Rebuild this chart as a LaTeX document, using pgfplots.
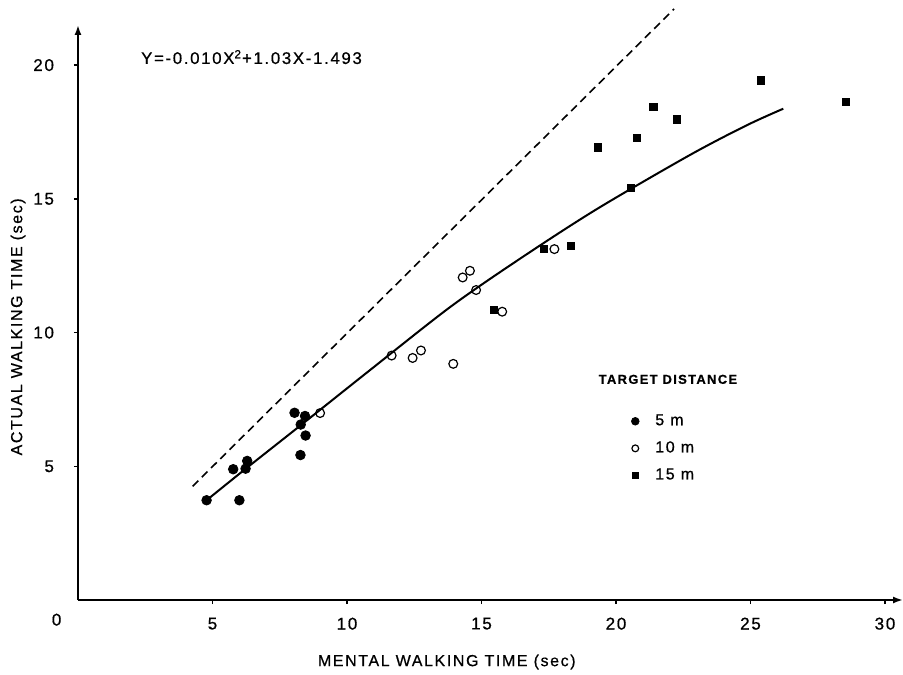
\documentclass[border=0pt]{standalone}
\usepackage{fontspec}
\setmainfont{Liberation Sans}[LetterSpace=10, FakeBold=0.7]
\usepackage{pgfplots}
\usepackage{pgfplotstable}
\pgfplotsset{compat=1.18}
\usetikzlibrary{arrows.meta}

\pgfplotstableread{
x y
4.78 3.73
6.00 3.73
5.77 4.89
6.29 5.20
6.23 4.91
8.05 7.00
8.44 6.88
8.28 6.56
8.46 6.15
8.27 5.42
}\fivem
\pgfplotstableread{
x y
9.00 6.99
11.66 9.14
12.44 9.05
12.75 9.33
13.95 8.83
14.30 12.06
14.57 12.31
14.80 11.59
15.77 10.78
17.71 13.12
}\tenm
\pgfplotstableread{
x y
15.46 10.85
17.32 13.12
18.31 13.25
19.34 16.92
20.56 15.40
20.77 17.29
21.39 18.43
22.25 17.97
25.39 19.43
28.55 18.62
}\fifteenm
\pgfplotstableread{
x y
4.78 3.73
6.20 4.88
8.30 6.55
10.86 8.60
13.83 10.95
16.37 12.72
19.26 14.60
22.75 16.64
24.86 17.75
26.22 18.37
}\fit

\begin{document}
\begin{tikzpicture}
\begin{axis}[
  scale only axis, width=412.5pt, height=287.5pt,
  xmin=0, xmax=30.67, ymin=0, ymax=21.5,
  axis lines=left,
  axis line style={line width=0.9pt, -{Latex[length=5pt,width=3.5pt]}},
  xtick={5,10,...,30}, ytick={5,10,15,20},
  extra x ticks={0},
  extra x tick style={major tick length=0pt, xticklabel style={xshift=-10.7pt}},
  tick align=outside, major tick length=2pt,
  tick style={line width=0.7pt, black},
  /pgf/number format/assume math mode=true,
  tick label style={font=\fontsize{8.5}{10}\selectfont},
  xticklabel style={yshift=-3.3pt},
  yticklabel style={xshift=-6.5pt},
  xlabel={MENTAL WALKING TIME (sec)},
  ylabel={ACTUAL WALKING TIME (sec)},
  label style={font=\fontsize{8}{9.6}\selectfont},
  xlabel style={at={(axis description cs:0.447,-0.1078)}, anchor=center},
  ylabel style={at={(axis description cs:-0.0727,0.475)}, anchor=center},
  clip=false,
  legend image code/.code={%
    \path[draw=none, fill=none] (-3pt,0pt) rectangle (8pt,0pt);
    \draw[#1] plot coordinates {(0pt,0pt)};},
  legend style={draw=none, fill=none, at={(axis cs:20.48,5.67)}, anchor=west,
    inner sep=0pt, row sep=2.5pt, column sep=0pt,
    font=\fontsize{8}{9.6}\selectfont},
  legend cell align=left,
]
\addplot[black, line width=0.8pt, dash pattern=on 4pt off 2.5pt, forget plot]
  coordinates {(4.26,4.25) (22.16,22.1)};
\addplot[black, line width=1pt, smooth, forget plot] table {\fit};
\addplot[only marks, mark=*, mark size=2.4pt, black, forget plot] table {\fivem};
\addplot[only marks, mark=o, mark size=2.2pt, black, line width=0.6pt,
  mark options={fill=white}, forget plot] table {\tenm};
\addplot[only marks, mark=square*, mark size=1.8pt, black, forget plot] table {\fifteenm};

\addlegendimage{only marks, mark=*, mark size=1.9pt, black}
\addlegendentry{5 m}
\addlegendimage{only marks, mark=o, mark size=1.7pt, black, line width=0.6pt}
\addlegendentry{10 m}
\addlegendimage{only marks, mark=square*, mark size=1.4pt, black}
\addlegendentry{15 m}

\node[font=\fontsize{6.5}{8}\selectfont\bfseries] at (axis cs:21.93,8.25) {TARGET DISTANCE};
\node[font=\fontsize{8.4}{10}\selectfont] at (axis cs:6.45,20.3)
  {Y=-0.010X\textsuperscript{2}+1.03X-1.493};
\end{axis}
\pgfresetboundingbox
\path[use as bounding box] (-39pt,-37pt) rectangle (412.5pt,300pt);
\end{tikzpicture}
\end{document}
